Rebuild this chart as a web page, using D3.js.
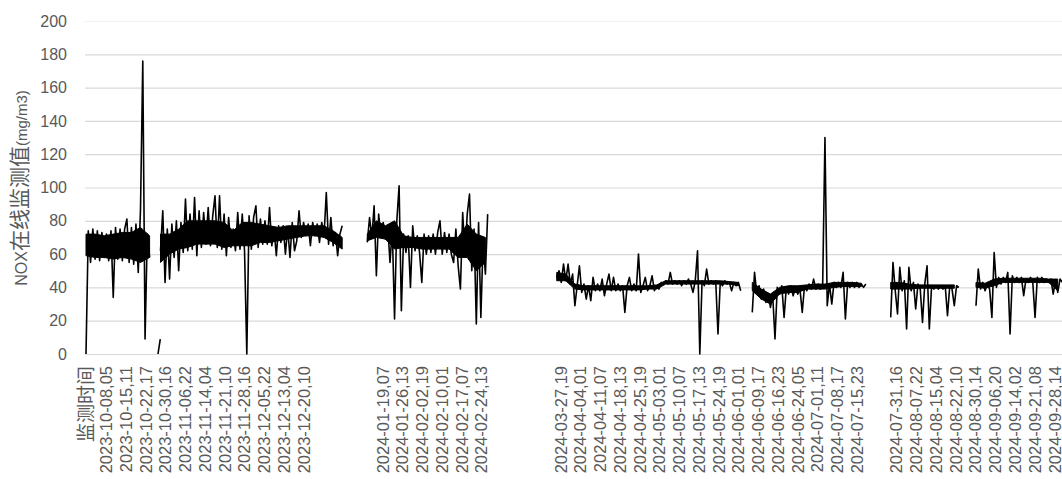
<!DOCTYPE html>
<html>
<head>
<meta charset="utf-8">
<script src="https://cdn.jsdelivr.net/npm/d3@7"></script>
<style>
  body { margin: 0; background: #fff; }
  svg text { font-family: "Liberation Sans", "Noto Sans CJK SC", sans-serif; fill: #595959; }
</style>
</head>
<body>
<div id="chart"></div>
<script>
// 小时数据，每个类别标签之间隔 174 行
const hoursPerLabel = 174;
const sampleStep = 20;
const bandStep = 80;

const xLabels = [
  '监测时间', '2023-10-08,05', '2023-10-15,11', '2023-10-22,17', '2023-10-30,16', '2023-11-06,22',
  '2023-11-14,04', '2023-11-21,10', '2023-11-28,16', '2023-12-05,22', '2023-12-13,04', '2023-12-20,10',
  '', '', '', '2024-01-19,07', '2024-01-26,13', '2024-02-02,19', '2024-02-10,01', '2024-02-17,07',
  '2024-02-24,13', '', '', '', '2024-03-27,19', '2024-04-04,01', '2024-04-11,07', '2024-04-18,13',
  '2024-04-25,19', '2024-05-03,01', '2024-05-10,07', '2024-05-17,13', '2024-05-24,19', '2024-06-01,01',
  '2024-06-09,17', '2024-06-16,23', '2024-06-24,05', '2024-07-01,11', '2024-07-08,17', '2024-07-15,23',
  '', '2024-07-31,16', '2024-08-07,22', '2024-08-15,04', '2024-08-22,10', '2024-08-30,14',
  '2024-09-06,20', '2024-09-14,02', '2024-09-21,08', '2024-09-28,14'
];

const yTicks = [0, 20, 40, 60, 80, 100, 120, 140, 160, 180, 200];

// 各段起始类别序号
const segStarts = [0, 634, 656, 2477, 4145, 5867, 7086, 7837];

// 逐点读数（含尖峰）
const seg1 = [0, 74, 55, 75, 57, 74, 56, 73, 58, 72,
  56, 74, 34, 76, 57, 75, 56, 75, 81, 55,
  76, 54, 78, 49, 87, 176, 9, 72, 58];

const segTiny = [0, 9];

const seg2 = [62, 86, 43, 75, 45, 78, 58, 80, 50, 79,
  61, 93, 62, 84, 63, 94, 59, 86, 64, 85,
  66, 88, 65, 83, 95, 64, 95, 63, 84, 59,
  82, 64, 75, 62, 85, 63, 84, 62, 0, 83,
  63, 82, 89, 64, 81, 66, 80, 66, 88, 65,
  75, 59, 77, 67, 77, 60, 76, 58, 79, 62,
  68, 86, 70, 79, 71, 78, 65, 79, 71, 78,
  67, 79, 71, 97, 66, 82, 65, 73, 59, 72, 77];

const seg3 = [67, 82, 70, 89, 47, 84, 70, 79, 69, 77,
  55, 75, 21, 80, 101, 26, 72, 61, 71, 40,
  77, 62, 71, 61, 43, 72, 60, 71, 61, 72,
  60, 73, 80, 60, 73, 61, 72, 60, 55, 75,
  53, 39, 85, 59, 84, 96, 50, 75, 18, 79,
  22, 68, 48, 84];

const seg4 = [46, 50, 43, 54, 44, 54, 42, 48, 29, 41,
  53, 37, 42, 33, 41, 32, 46, 38, 42, 38,
  45, 35, 42, 48, 38, 46, 38, 42, 38, 41,
  25, 41, 46, 38, 42, 38, 60, 37, 41, 46,
  38, 41, 47, 38, 41, 39, 43, 42, 44, 42,
  49, 42, 44, 42, 44, 41, 44, 42, 45, 42,
  37, 44, 62, 0, 44, 41, 51, 42, 44, 42,
  44, 12, 43, 41, 44, 42, 43, 38, 43, 41,
  43, 38];

const seg5 = [25, 49, 36, 41, 33, 39, 31, 36, 28, 35,
  9, 40, 36, 41, 22, 40, 36, 41, 35, 40,
  36, 39, 25, 41, 38, 42, 39, 45, 39, 42,
  39, 42, 130, 29, 42, 30, 43, 40, 43, 40,
  49, 21, 43, 40, 43, 40, 43, 40, 42, 40,
  42];

const seg6 = [22, 55, 38, 24, 52, 38, 44, 15, 52, 38,
  43, 27, 42, 39, 19, 42, 53, 15, 41, 39,
  41, 39, 41, 39, 41, 23, 41, 39, 29, 41,
  40];

const seg7 = [29, 51, 39, 43, 38, 42, 39, 22, 61, 40,
  46, 42, 46, 43, 49, 12, 47, 43, 46, 43,
  46, 35, 45, 43, 46, 43, 22, 46, 43, 46,
  43, 45, 43, 45, 36, 44, 37, 45, 43];

// 密集波动带的上下沿（每 80 行读一次）
const band1Lo = [59, 58, 58, 57, 58, 57, 55, 58];
const band1Hi = [72, 72, 71, 72, 73, 73, 76, 71];
const band2Lo = [55, 60, 63, 64, 66, 66, 66, 64, 65, 65, 65, 67, 67, 68, 69, 70, 71, 71, 70, 67, 63];
const band2Hi = [72, 72, 75, 80, 80, 80, 80, 79, 74, 79, 79, 78, 77, 76, 77, 77, 77, 77, 77, 74, 70];
const band3Lo = [68, 70, 69, 63, 64, 64, 63, 63, 63, 63, 58, 58, 50, 55];
const band3Hi = [72, 80, 77, 80, 71, 70, 70, 70, 70, 70, 70, 78, 72, 70];
const band4Lo = [44, 44, 39, 38.5, 38.5, 38.5, 38.5, 38.5, 38.5, 38.5, 39, 39, 42, 42, 42, 42, 42, 42, 42, 42, 41];
const band4Hi = [49, 48, 42, 41, 41, 41, 41, 41, 41, 41, 41, 41.5, 44, 44, 44, 44, 44, 44, 44, 43.5, 43];
const band5Lo = [38, 33, 30, 36, 37, 37, 39, 39, 39, 40, 40.5, 40.5, 40.5];
const band5Hi = [43, 39, 36, 40, 41, 41, 41.5, 42, 42, 43, 43, 43, 42.5];
const band6Lo = [39, 39, 39, 39.5, 39.5, 39.5, 39.5, 39.5];
const band6Hi = [43, 43, 42, 41.5, 41.5, 41.5, 41.5, 41.5];
const band7Lo = [40, 39.5, 41, 43, 43, 43, 43, 43, 43, 38];
const band7Hi = [43, 42.5, 45, 45.5, 45.5, 45.5, 45.5, 45.5, 45, 45];

const segments = [seg1, segTiny, seg2, seg3, seg4, seg5, seg6, seg7];
const bands = [
  { start: segStarts[0], lo: band1Lo, hi: band1Hi },
  { start: segStarts[2], lo: band2Lo, hi: band2Hi },
  { start: segStarts[3], lo: band3Lo, hi: band3Hi },
  { start: segStarts[4], lo: band4Lo, hi: band4Hi },
  { start: segStarts[5], lo: band5Lo, hi: band5Hi },
  { start: segStarts[6], lo: band6Lo, hi: band6Hi },
  { start: segStarts[7], lo: band7Lo, hi: band7Hi }
];

const width = 1062, height = 479;

let svg = d3.select('#chart')
  .append('svg')
  .attr('width', width)
  .attr('height', height);

let x = d3.scaleLinear()
  .domain([0, hoursPerLabel * xLabels.length])
  .range([86, 86 + 19.76 * xLabels.length]);

let y = d3.scaleLinear()
  .domain([0, 200])
  .range([354, 21]);

// 网格线
svg.append('g')
  .selectAll('line')
  .data(yTicks)
  .enter()
  .append('line')
  .attr('x1', 85)
  .attr('x2', width)
  .attr('y1', d => y(d) + 0.5)
  .attr('y2', d => y(d) + 0.5)
  .attr('stroke', d => d === 200 ? '#f2f2f2' : '#d9d9d9')
  .attr('stroke-width', 1.2);

// y 轴
let yAxis = svg.append('g')
  .attr('transform', 'translate(85,0)')
  .call(d3.axisLeft(y).tickValues(yTicks).tickSize(0).tickPadding(18));
yAxis.select('.domain').remove();
yAxis.selectAll('text')
  .style('font-size', '16px')
  .attr('fill', '#595959');

// x 轴（类别标签）
let xAxis = svg.append('g')
  .attr('transform', 'translate(0,354)')
  .call(d3.axisBottom(x)
    .tickValues(xLabels.map((d, i) => i * hoursPerLabel))
    .tickFormat(d => xLabels[d / hoursPerLabel])
    .tickSize(0));
xAxis.select('.domain').remove();
xAxis.selectAll('text')
  .attr('transform', 'rotate(-90)')
  .attr('text-anchor', 'end')
  .attr('x', -12)
  .attr('y', 0)
  .attr('dy', '0.35em')
  .style('font-size', (d, i) => i === 0 ? '19px' : '16.5px')
  .attr('fill', '#595959');

// 波动带
let area = d3.area()
  .x((d, i) => x(d.start + i * bandStep))
  .y0(d => y(d.lo))
  .y1(d => y(d.hi));

svg.append('g')
  .selectAll('path')
  .data(bands.map(b => b.lo.map((v, i) => ({ start: b.start, lo: v, hi: b.hi[i] }))))
  .enter()
  .append('path')
  .attr('d', area)
  .attr('fill', '#000')
  .attr('stroke', '#000')
  .attr('stroke-width', 1);

// 折线
let line = d3.line()
  .x((d, i) => x(d.start + i * sampleStep))
  .y(d => y(d.v));

svg.append('g')
  .selectAll('path')
  .data(segments.map((s, k) => s.map(v => ({ start: segStarts[k], v: v }))))
  .enter()
  .append('path')
  .attr('d', line)
  .attr('fill', 'none')
  .attr('stroke', '#000')
  .attr('stroke-width', 1.6)
  .attr('stroke-linejoin', 'round');

// y 轴标题
let title = svg.append('text')
  .attr('transform', 'translate(21,188) rotate(-90)')
  .attr('text-anchor', 'middle')
  .attr('dy', '0.35em');
title.append('tspan').text('NOX').style('font-size', '16px');
title.append('tspan').text('在线监测值').style('font-size', '21px');
title.append('tspan').text('(mg/m3)').style('font-size', '15px');
</script>
</body>
</html>
